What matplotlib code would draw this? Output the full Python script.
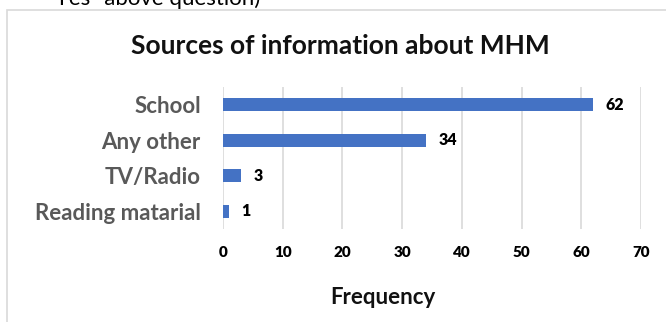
import matplotlib
matplotlib.use("Agg")
import matplotlib.pyplot as plt
from matplotlib.patches import Rectangle

plt.rcParams['font.family'] = ['Lato', 'DejaVu Sans']

categories = ["School", "Any other", "TV/Radio", "Reading matarial"]
frequency = [62, 34, 3, 1]
x_ticks = [0, 10, 20, 30, 40, 50, 60, 70]

bar_color = "#4472C4"
grid_color = "#D9D9D9"

fig = plt.figure(figsize=(6.66, 3.22), dpi=100)
W, H = 666, 322

# chart frame (left and top edges visible)
fig.add_artist(Rectangle((7 / W, -0.1), 1.2, 1 - 10 / H + 0.1,
                         transform=fig.transFigure, fill=False,
                         edgecolor=grid_color, linewidth=1.2))

# partial line of document text above the chart
fig.text(55 / W, 1 + 1 / H, "Yes\" above question)", fontsize=16,
         ha="left", va="center", color="black")

ax = fig.add_axes([223 / W, 93 / H, (641 - 223) / W, (235 - 93) / H])
ypos = list(range(len(categories)))
ax.barh(ypos, frequency, height=0.37, color=bar_color, zorder=3)
ax.set_ylim(len(categories) - 0.5, -0.5)
ax.set_xlim(0, 70)
ax.set_xticks(x_ticks)
ax.set_yticks(ypos)
ax.set_yticklabels(categories, fontsize=16, fontweight="bold", color="#595959")
ax.set_xticklabels([str(t) for t in x_ticks], fontsize=11, fontweight="heavy", color="black")
ax.tick_params(axis="x", length=0, pad=12)
ax.tick_params(axis="y", length=0, pad=16)
ax.grid(axis="x", color=grid_color, linewidth=1.2, zorder=0)
for s in ax.spines.values():
    s.set_visible(False)

for y, v in zip(ypos, frequency):
    ax.annotate(str(v), (v, y), xytext=(9, 0), textcoords="offset points",
                ha="left", va="center", fontsize=11.5, fontweight="heavy", color="black")

fig.text(340 / W, 1 - 46 / H, "Sources of information about MHM",
         fontsize=19, fontweight="bold", ha="center", va="center", color="#111111")
fig.text(383 / W, 1 - 297 / H, "Frequency", fontsize=16, fontweight="bold",
         ha="center", va="center", color="#111111")

fig.savefig("out.png", dpi=100, facecolor="white")
